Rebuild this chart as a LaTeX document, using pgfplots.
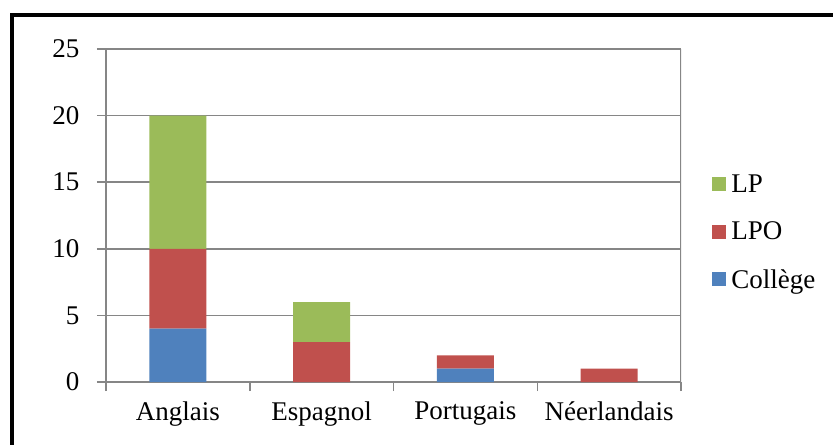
\documentclass[border=0pt]{standalone}
\usepackage{fontspec}
\setmainfont{Liberation Serif}
\usepackage{pgfplots}
\pgfplotsset{compat=1.18}

\definecolor{college}{HTML}{4F81BD}
\definecolor{lpo}{HTML}{C0504D}
\definecolor{lp}{HTML}{9BBB59}
\definecolor{gridgray}{RGB}{134,134,134}

\begin{document}
\begin{tikzpicture}
\path[use as bounding box] (-106bp,-63bp) rectangle (727bp,382bp);
\draw[line width=4bp] (-94bp,-63bp) -- (-94bp,366.5bp) -- (727bp,366.5bp);
\begin{axis}[
    scale only axis,
    width=575bp, height=333bp,
    ybar stacked,
    bar width=57bp,
    xmin=-0.5, xmax=3.5,
    ymin=0, ymax=25,
    ytick={0,5,...,25},
    xtick={-0.5,0.5,1.5,2.5,3.5},
    xticklabels={},
    extra x ticks={0,1,2,3},
    extra x tick labels={Anglais, Espagnol, Portugais, Néerlandais},
    extra x tick style={grid=none, major tick length=0pt},
    xticklabel style={yshift=-16bp},
    tick align=outside,
    major tick length=9bp,
    ymajorgrids=true,
    grid style={draw=gridgray, line width=1.5bp},
    axis line style={draw=gridgray, line width=1.5bp},
    tick style={draw=gridgray, line width=1.5bp},
    axis x line*=bottom,
    axis y line*=left,
    font=\fontsize{27bp}{31bp}\selectfont,
    /pgf/number format/assume math mode=true,
    yticklabel style={xshift=-14bp},
    reverse legend,
    legend style={draw=none, fill=none, at={(1.054,0.45)}, anchor=west,
        row sep=24bp, inner sep=0pt,
        font=\fontsize{27bp}{31bp}\selectfont,
        /tikz/every even column/.append style={column sep=0pt}},
    legend cell align=left,
    legend image code/.code={\fill[#1] (0bp,-7bp) rectangle (14bp,7bp);},
    legend style={nodes={inner xsep=5bp}},
]
\draw[gridgray, line width=1.5bp] (axis cs:3.5,0) -- (axis cs:3.5,25);
\addplot[fill=college, draw=none] coordinates {(0,4) (1,0) (2,1) (3,0)};
\addplot[fill=lpo, draw=none] coordinates {(0,6) (1,3) (2,1) (3,1)};
\addplot[fill=lp, draw=none] coordinates {(0,10) (1,3) (2,0) (3,0)};
\legend{Collège, LPO, LP}
\end{axis}
\end{tikzpicture}
\end{document}
